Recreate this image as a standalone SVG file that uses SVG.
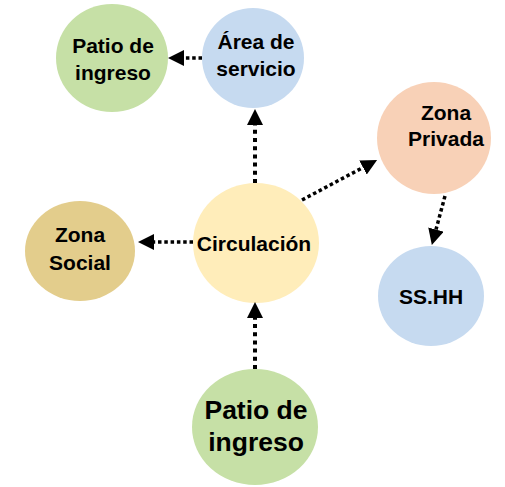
<svg xmlns="http://www.w3.org/2000/svg" width="505" height="487" viewBox="0 0 505 487">
  <style>
    .lbl { font-family: "Liberation Sans", Arial, sans-serif; font-weight: bold; font-size: 21px; fill: #000; text-anchor: middle; }
    .big { font-size: 26.5px; }
    .green { fill: #C6E0A6; }
    .blue { fill: #C6DAF0; }
    .yellow { fill: #FFEDBA; }
    .peach { fill: #F8D1B7; }
    .tan { fill: #E3CD8C; }
    .con { fill: none; stroke: #000; stroke-width: 4; stroke-dasharray: 4 4.2; marker-end: url(#arr); }
    .con.thin { stroke-width: 3.5; stroke-dasharray: 3.5 2.8; }
  </style>
  <defs>
    <marker id="arr" viewBox="0 0 16 16" refX="0" refY="8" markerWidth="16" markerHeight="16" markerUnits="userSpaceOnUse" orient="auto">
      <path d="M0,0 L16,8 L0,16 Z" fill="#000"/>
    </marker>
  </defs>

  <g id="patio-top">
    <ellipse class="green" cx="112" cy="58" rx="56" ry="54"/>
    <text class="lbl" x="113" y="53">Patio de</text>
    <text class="lbl" x="113" y="80">ingreso</text>
  </g>
  <g id="area-servicio">
    <ellipse class="blue" cx="253" cy="58" rx="51" ry="50"/>
    <text class="lbl" x="256" y="49">Área de</text>
    <text class="lbl" x="256" y="76">servicio</text>
  </g>
  <g id="zona-privada">
    <ellipse class="peach" cx="434" cy="138" rx="57" ry="56"/>
    <text class="lbl" x="446" y="120">Zona</text>
    <text class="lbl" x="446" y="146">Privada</text>
  </g>
  <g id="zona-social">
    <ellipse class="tan" cx="80" cy="251" rx="55" ry="50"/>
    <text class="lbl" x="80" y="242">Zona</text>
    <text class="lbl" x="80" y="270">Social</text>
  </g>
  <g id="circulacion">
    <ellipse class="yellow" cx="256" cy="243" rx="63" ry="60"/>
    <text class="lbl" x="254" y="251">Circulación</text>
  </g>
  <g id="sshh">
    <ellipse class="blue" cx="431" cy="296" rx="53" ry="50"/>
    <text class="lbl" x="431" y="304">SS.HH</text>
  </g>
  <g id="patio-bottom">
    <ellipse class="green" cx="255" cy="427" rx="63" ry="58"/>
    <text class="lbl big" x="256" y="419">Patio de</text>
    <text class="lbl big" x="256" y="451">ingreso</text>
  </g>

  <g id="connectors">
    <line class="con thin" x1="202" y1="58" x2="184" y2="58"/>
    <line class="con" x1="255" y1="183" x2="255" y2="125"/>
    <line class="con thin" x1="302" y1="200" x2="363" y2="167.5"/>
    <line class="con thin" x1="445" y1="196" x2="436" y2="229.5"/>
    <line class="con thin" x1="193" y1="242" x2="154" y2="242"/>
    <line class="con" x1="255" y1="369" x2="255" y2="318"/>
  </g>
</svg>
